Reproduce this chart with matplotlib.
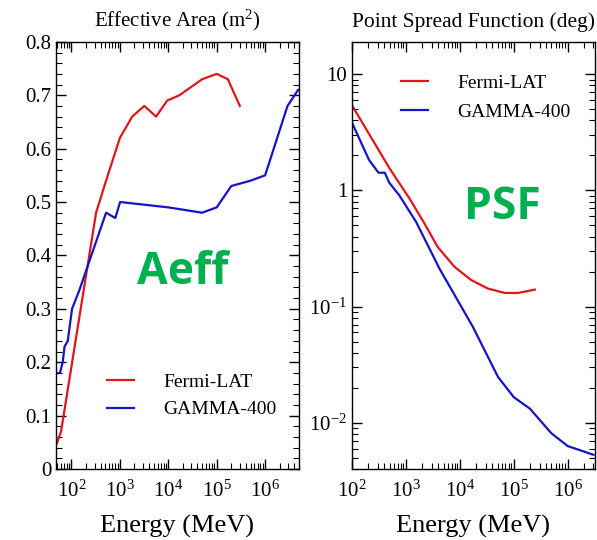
import matplotlib
matplotlib.use("Agg")
import matplotlib.pyplot as plt
from matplotlib.ticker import FixedLocator, FixedFormatter, LogLocator, MultipleLocator, NullFormatter

plt.rcParams['font.family'] = ['Liberation Serif', 'DejaVu Serif']
plt.rcParams['mathtext.fontset'] = 'custom'
plt.rcParams['mathtext.rm'] = 'Liberation Serif'
plt.rcParams['mathtext.it'] = 'Liberation Serif:italic'

# effective area (m^2) vs energy (MeV)
aeff_fermi_e = [50, 61, 323, 519, 1000, 1800, 3200, 5600,
                9500, 17000, 50000, 1e5, 1.7e5, 3e5]
aeff_fermi = [0.048, 0.07, 0.48, 0.54, 0.62, 0.66, 0.68, 0.66,
              0.69, 0.70, 0.73, 0.74, 0.73, 0.68]
aeff_gamma_e = [48, 58, 66, 72, 84, 103, 146, 519, 805, 1010, 1e4, 5e4, 1e5,
                2e5, 5e5, 1e6, 2.9e6, 4.8e6]
aeff_gamma = [0.179, 0.18, 0.20, 0.229, 0.24, 0.30, 0.335, 0.48, 0.47, 0.50, 0.49, 0.48, 0.49,
              0.53, 0.54, 0.55, 0.68, 0.71]

# point spread function (deg) vs energy (MeV)
psf_fermi_e = [100, 500, 1150, 2200, 3860, 7950, 16300, 33000, 68000, 1.2e5, 2.45e5]
psf_fermi = [5.4, 1.54, 0.86, 0.52, 0.327, 0.22, 0.169, 0.143, 0.131, 0.131, 0.140]
psf_gamma_e = [100, 207, 310, 406, 488, 750, 1540, 4170, 17400, 51000, 1e5,
               2e5, 5e5, 1e6, 3e6]
psf_gamma = [3.83, 1.83, 1.42, 1.42, 1.17, 0.91, 0.537, 0.213, 0.067, 0.0248, 0.0166,
             0.0132, 0.0081, 0.0063, 0.0053]

red = '#e0161b'
blue = '#1414c8'
green = '#00b050'

fig = plt.figure(figsize=(5.97, 5.40), dpi=100)
ax1 = fig.add_axes([0.0938, 0.1315, 0.407, 0.791])
ax2 = fig.add_axes([0.5896, 0.1315, 0.407, 0.791])

# left: effective area
ax1.plot(aeff_fermi_e, aeff_fermi, color=red, lw=1.6, label='Fermi-LAT')
ax1.plot(aeff_gamma_e, aeff_gamma, color=blue, lw=1.6, label='GAMMA-400')
ax1.set_xscale('log')
ax1.set_xlim(48, 5e6)
ax1.set_ylim(0, 0.8)
ax1.yaxis.set_major_locator(FixedLocator([0, 0.1, 0.2, 0.3, 0.4, 0.5, 0.6, 0.7, 0.8]))
ax1.yaxis.set_major_formatter(FixedFormatter(['0', '0.1', '0.2', '0.3', '0.4', '0.5', '0.6', '0.7', '0.8']))
ax1.yaxis.set_minor_locator(MultipleLocator(0.02))
ax1.set_title('Effective Area (m$^2$)', fontsize=15, pad=11)
ax1.text(0.52, 0.46, 'Aeff', transform=ax1.transAxes, fontsize=32, color=green,
         fontweight='bold', family='Open Sans', ha='center', va='center')
ax1.legend(loc='center left', bbox_to_anchor=(0.21, 0.171), frameon=False, fontsize=14,
           handlelength=1.4, handletextpad=1.5, labelspacing=0.5, borderpad=0, borderaxespad=0)

# right: PSF
ax2.plot(psf_fermi_e, psf_fermi, color=red, lw=1.6, label='Fermi-LAT')
ax2.plot(psf_gamma_e, psf_gamma, color=blue, lw=1.6, label='GAMMA-400')
ax2.set_xscale('log')
ax2.set_yscale('log')
ax2.set_xlim(100, 3.2e6)
ax2.set_ylim(0.004, 19)
ax2.yaxis.set_major_locator(FixedLocator([0.01, 0.1, 1, 10]))
ax2.yaxis.set_major_formatter(FixedFormatter(['10$^{-2}$', '10$^{-1}$', '1', '10']))
ax2.yaxis.set_minor_locator(LogLocator(base=10, subs=range(2, 10)))
ax2.yaxis.set_minor_formatter(NullFormatter())
ax2.set_title('Point Spread Function (deg)', fontsize=15.5, pad=11)
ax2.text(0.617, 0.613, 'PSF', transform=ax2.transAxes, fontsize=32, color=green,
         fontweight='bold', family='Open Sans', ha='center', va='center')
ax2.legend(loc='center left', bbox_to_anchor=(0.20, 0.869), frameon=False, fontsize=14,
           handlelength=1.4, handletextpad=1.5, labelspacing=0.6, borderpad=0, borderaxespad=0)

for ax in (ax1, ax2):
    ax.xaxis.set_major_locator(FixedLocator([1e2, 1e3, 1e4, 1e5, 1e6]))
    ax.xaxis.set_major_formatter(FixedFormatter(['10$^2$', '10$^3$', '10$^4$', '10$^5$', '10$^6$']))
    ax.xaxis.set_minor_locator(LogLocator(base=10, subs=range(2, 10), numticks=20))
    ax.xaxis.set_minor_formatter(NullFormatter())
    ax.tick_params(which='both', direction='in', top=True, right=True, labelsize=15)
    ax.tick_params(which='major', length=7, width=1)
    ax.tick_params(which='minor', length=4, width=0.8)
    ax.tick_params(axis='x', pad=8)
    ax.set_xlabel('Energy (MeV)', fontsize=19, labelpad=10)
    for s in ax.spines.values():
        s.set_linewidth(1.0)

fig.savefig('out.png', dpi=100)
